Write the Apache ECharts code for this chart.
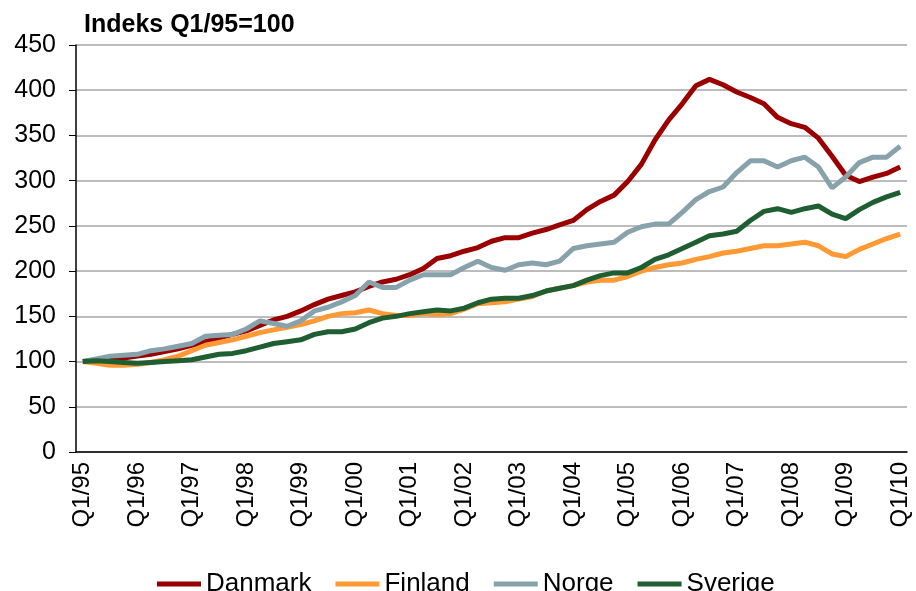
<!DOCTYPE html>
<html>
<head>
<meta charset="utf-8">
<script src="https://cdn.jsdelivr.net/npm/echarts@6/dist/echarts.min.js"></script>
<style>
html,body{margin:0;padding:0;background:#fff;}
#main{width:916px;height:591px;}
</style>
</head>
<body>
<div id="main"></div>
<script>
// kvartaler Q1/95 .. Q1/10
var quarters=[];
for(var y=1995;y<=2010;y++){
    for(var q=1;q<=4;q++){
        if(y==2010&&q>1) break;
        quarters.push('Q'+q+'/'+String(y).slice(2));
    }
}
var danmark=[100,101,103,104,106,108,111,114,118,122,126,130,134,140,146,150,156,163,169,173,
    177,183,188,191,196,203,214,217,222,226,233,237,237,242,246,251,256,268,277,284,
    299,318,345,367,385,405,412,406,398,392,385,370,363,359,347,327,306,299,304,308,315];
var finland=[100,98,96,96,97,99,102,106,112,118,121,124,128,132,135,138,141,145,150,153,
    154,157,153,151,151,153,152,153,158,164,165,166,169,172,178,181,184,188,190,190,
    194,200,204,207,209,213,216,220,222,225,228,228,230,232,228,219,216,224,230,236,241];
var norge=[100,103,106,107,108,112,114,117,120,128,129,130,136,145,142,139,145,156,160,166,
    173,188,182,182,190,196,196,196,204,211,204,201,207,209,207,211,225,228,230,232,
    243,249,252,252,265,279,288,293,309,322,322,315,322,326,315,292,304,320,326,326,338];
var sverige=[100,101,100,99,98,99,100,101,102,105,108,109,112,116,120,122,124,130,133,133,
    136,143,148,150,153,155,157,156,159,165,169,170,170,173,178,181,184,190,195,198,
    198,204,213,218,225,232,239,241,244,256,266,269,265,269,272,263,258,268,276,282,287];

var font='"Liberation Sans", Arial, sans-serif';
var mychart=echarts.init(document.getElementById('main'));

function line(name,data,color){
    return {
        name:name,
        type:'line',
        data:data,
        symbol:'none',
        lineStyle:{width:5,color:color},
        itemStyle:{color:color}
    };
}

var option={
    animation:false,
    title:{
        text:'Indeks Q1/95=100',
        left:79,
        top:8,
        textStyle:{fontFamily:font,fontSize:25,fontWeight:'bold',color:'#000'}
    },
    legend:{
        data:['Danmark','Finland','Norge','Sverige'],
        left:152,
        top:566,
        icon:'rect',
        itemWidth:44,
        itemHeight:5,
        itemGap:24,
        textStyle:{fontFamily:font,fontSize:26,color:'#000'}
    },
    grid:{left:76,right:9,top:45,bottom:139,containLabel:false},
    xAxis:{
        type:'category',
        data:quarters,
        boundaryGap:true,
        axisLine:{lineStyle:{color:'#000',width:1.5}},
        axisTick:{interval:0,length:6,lineStyle:{color:'#000'}},
        axisLabel:{interval:3,rotate:90,margin:10,fontFamily:font,fontSize:24,color:'#000'},
        splitLine:{show:false}
    },
    yAxis:{
        type:'value',
        min:0,
        max:450,
        interval:50,
        axisLine:{show:true,lineStyle:{color:'#000',width:1.5}},
        axisTick:{show:true,length:7,lineStyle:{color:'#000'}},
        axisLabel:{margin:20,fontFamily:font,fontSize:25,color:'#000'},
        splitLine:{lineStyle:{color:'#a6a6a6',width:1.5}}
    },
    series:[
        line('Danmark',danmark,'#9a0000'),
        line('Finland',finland,'#ff9933'),
        line('Norge',norge,'#87a2ab'),
        line('Sverige',sverige,'#1e5e30')
    ]
};
mychart.setOption(option);
</script>
</body>
</html>
